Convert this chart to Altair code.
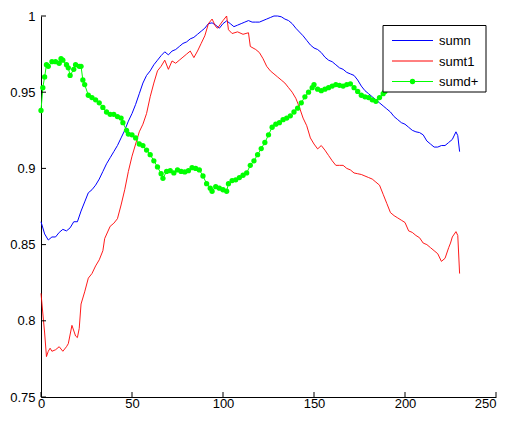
import altair as alt
import pandas as pd

# ---- data ----
sumn_x = [0, 2, 4, 6, 8, 10, 12, 14, 16, 18, 20, 22, 24, 26, 28, 30, 32, 34, 36, 38, 40,
          42, 44, 46, 48, 50, 52, 54, 56, 58, 60, 62, 64, 66, 68, 70, 72, 74, 76, 78, 80,
          82, 84, 86, 88, 90, 92, 94, 96, 98, 100, 102, 104, 106, 108, 110, 112, 114, 116,
          118, 120, 122, 124, 126, 128, 130, 132, 134, 136, 138, 140, 142, 144, 146, 148,
          150, 152, 154, 156, 158, 160, 162, 164, 166, 168, 170, 172, 174, 176, 178, 180,
          182, 184, 186, 188, 190, 192, 194, 196, 198, 200, 202, 204, 206, 208, 210, 212,
          214, 216, 218, 220, 222, 224, 226, 228, 229, 230]
sumn_y = [0.865, 0.857, 0.853, 0.855, 0.855, 0.858, 0.860, 0.859, 0.861, 0.865, 0.865,
          0.872, 0.878, 0.884, 0.886, 0.889, 0.893, 0.898, 0.903, 0.907, 0.911, 0.915,
          0.920, 0.925, 0.931, 0.936, 0.942, 0.949, 0.956, 0.961, 0.964, 0.968, 0.971,
          0.974, 0.9765, 0.9745, 0.977, 0.978, 0.980, 0.982, 0.983, 0.985, 0.986, 0.988,
          0.990, 0.992, 0.995, 0.9955, 0.994, 0.992, 0.995, 0.9968, 0.995, 0.993, 0.994,
          0.995, 0.996, 0.997, 0.996, 0.996, 0.996, 0.997, 0.998, 0.999, 1.000, 1.000,
          0.9995, 0.998, 0.997, 0.995, 0.992, 0.9895, 0.987, 0.984, 0.981, 0.979, 0.978,
          0.976, 0.973, 0.971, 0.970, 0.968, 0.966, 0.965, 0.963, 0.962, 0.961, 0.958,
          0.954, 0.951, 0.949, 0.947, 0.945, 0.943, 0.941, 0.939, 0.937, 0.934, 0.932,
          0.930, 0.929, 0.927, 0.925, 0.924, 0.9235, 0.922, 0.918, 0.916, 0.914, 0.914,
          0.915, 0.915, 0.917, 0.919, 0.924, 0.9215, 0.911]

sumt1_x = [0, 2, 3, 4, 5, 6, 8, 10, 12, 14, 15, 17, 19, 20, 21, 22, 24, 26, 28, 30, 32,
           34, 35, 38, 40, 42, 44, 46, 48, 50, 52, 54, 56, 58, 60, 62, 64, 66, 68, 70, 72,
           74, 76, 78, 80, 82, 84, 86, 88, 90, 92, 94, 96, 97, 100, 102, 103, 105, 108,
           111, 114, 115, 118, 120, 122, 124, 126, 128, 130, 132, 134, 136, 138, 140, 142,
           144, 146, 148, 150, 152, 154, 156, 158, 160, 162, 164, 166, 168, 170, 172, 174,
           176, 178, 180, 182, 184, 186, 188, 190, 192, 194, 196, 198, 200, 202, 204, 206,
           208, 210, 212, 214, 216, 218, 220, 222, 224, 225, 226, 228, 229, 230]
sumt1_y = [0.818, 0.792, 0.7765, 0.780, 0.782, 0.780, 0.781, 0.783, 0.780, 0.783, 0.785,
           0.797, 0.790, 0.789, 0.795, 0.811, 0.819, 0.828, 0.831, 0.836, 0.840, 0.846,
           0.854, 0.862, 0.864, 0.867, 0.876, 0.886, 0.898, 0.908, 0.916, 0.924, 0.929,
           0.936, 0.947, 0.956, 0.964, 0.967, 0.971, 0.965, 0.9705, 0.969, 0.971, 0.973,
           0.975, 0.977, 0.9727, 0.977, 0.982, 0.987, 0.995, 0.998, 0.993, 0.992, 0.997,
           1.000, 0.991, 0.9885, 0.9896, 0.988, 0.989, 0.980, 0.978, 0.976, 0.972, 0.967,
           0.964, 0.962, 0.960, 0.958, 0.956, 0.953, 0.950, 0.946, 0.940, 0.933, 0.928,
           0.920, 0.916, 0.9128, 0.915, 0.912, 0.9085, 0.905, 0.902, 0.902, 0.902, 0.900,
           0.899, 0.897, 0.8965, 0.896, 0.895, 0.894, 0.893, 0.891, 0.889, 0.883, 0.877,
           0.871, 0.869, 0.8675, 0.866, 0.8645, 0.859, 0.858, 0.856, 0.8545, 0.851, 0.850,
           0.848, 0.846, 0.844, 0.839, 0.841, 0.848, 0.851, 0.855, 0.8585, 0.856, 0.831]

sumd_x = [0, 1, 2, 3, 4, 6, 8, 10, 11, 12, 14, 15, 16, 18, 19, 21, 22, 23, 24, 26, 28,
          30, 32, 34, 36, 38, 40, 42, 44, 45, 47, 48, 50, 52, 54, 56, 58, 60, 62, 64, 66,
          67, 69, 71, 73, 75, 77, 79, 81, 83, 85, 87, 89, 91, 93, 94, 96, 98, 100, 102,
          103, 105, 107, 109, 111, 113, 115, 117, 119, 121, 123, 125, 127, 129, 131, 133,
          135, 137, 139, 141, 143, 145, 147, 149, 150, 152, 154, 156, 158, 160, 162, 164,
          166, 168, 170, 172, 174, 176, 178, 180, 182, 184, 186, 188, 189]
sumd_y = [0.938, 0.953, 0.960, 0.968, 0.967, 0.970, 0.970, 0.969, 0.972, 0.971, 0.968,
          0.966, 0.961, 0.965, 0.968, 0.967, 0.967, 0.958, 0.955, 0.948, 0.9465, 0.945,
          0.943, 0.940, 0.937, 0.9355, 0.9355, 0.934, 0.933, 0.930, 0.925, 0.9225, 0.922,
          0.920, 0.916, 0.915, 0.912, 0.909, 0.905, 0.901, 0.8965, 0.8935, 0.898, 0.8985,
          0.897, 0.899, 0.898, 0.8977, 0.8985, 0.9005, 0.900, 0.899, 0.895, 0.890, 0.887,
          0.885, 0.888, 0.887, 0.886, 0.885, 0.890, 0.892, 0.8925, 0.894, 0.8955, 0.897,
          0.902, 0.905, 0.909, 0.913, 0.917, 0.922, 0.927, 0.929, 0.930, 0.932, 0.933,
          0.9345, 0.937, 0.9395, 0.943, 0.947, 0.950, 0.953, 0.955, 0.952, 0.951, 0.952,
          0.953, 0.954, 0.955, 0.9545, 0.954, 0.955, 0.9555, 0.953, 0.9505, 0.948, 0.947,
          0.9465, 0.945, 0.944, 0.9465, 0.949, 0.9505]

x_ticks = [0, 50, 100, 150, 200, 250]
y_ticks = [0.75, 0.8, 0.85, 0.9, 0.95, 1.0]

legend_labels = ["sumn", "sumt1", "sumd+"]

BLUE = "#0000ff"
RED = "#ff0000"
GREEN = "#00ff00"
FONT = "Liberation Sans"

W, H = 455, 381

xs = alt.Scale(domain=[0, 250], nice=False, zero=False)
ys = alt.Scale(domain=[0.75, 1.0], nice=False, zero=False)

x_axis = alt.Axis(values=x_ticks, ticks=False, grid=False, title=None, domainColor="black",
                  domainWidth=1, labelFont=FONT, labelFontSize=13, labelColor="black",
                  labelPadding=0, labelFlush=False, labelOverlap=False,
                  labelAlign={"condition": {"test": "datum.value === 250", "value": "right"},
                              "value": "center"})
y_axis = alt.Axis(values=y_ticks, ticks=False, grid=False, title=None, domainColor="black",
                  domainWidth=1, labelFont=FONT, labelFontSize=13, labelColor="black",
                  labelPadding=6, format="~g", labelFlush=False, labelOverlap=False)

df_n = pd.DataFrame({"x": sumn_x, "y": sumn_y})
df_t = pd.DataFrame({"x": sumt1_x, "y": sumt1_y})
df_d = pd.DataFrame({"x": sumd_x, "y": sumd_y})

blue = alt.Chart(df_n).mark_line(color=BLUE, strokeWidth=1).encode(
    x=alt.X("x:Q", scale=xs, axis=x_axis), y=alt.Y("y:Q", scale=ys, axis=y_axis))
red = alt.Chart(df_t).mark_line(color=RED, strokeWidth=0.9).encode(
    x=alt.X("x:Q", scale=xs), y=alt.Y("y:Q", scale=ys))
green_line = alt.Chart(df_d).mark_line(color=GREEN, strokeWidth=1).encode(
    x=alt.X("x:Q", scale=xs), y=alt.Y("y:Q", scale=ys))
green_pts = alt.Chart(df_d).mark_circle(color=GREEN, size=28, opacity=1).encode(
    x=alt.X("x:Q", scale=xs), y=alt.Y("y:Q", scale=ys))

xt = alt.Chart(pd.DataFrame({"x": x_ticks})).mark_rule(color="black", strokeWidth=1).encode(
    x=alt.X("x:Q", scale=xs), y=alt.value(H), y2=alt.value(H - 5))
yt = alt.Chart(pd.DataFrame({"y": y_ticks})).mark_rule(color="black", strokeWidth=1).encode(
    y=alt.Y("y:Q", scale=ys), x=alt.value(0), x2=alt.value(5))

one = pd.DataFrame({"a": [0]})
lx0, ly0, lx1, ly1 = 342, 9.5, 445, 76
box = alt.Chart(one).mark_rect(fill="white", stroke="black", strokeWidth=1).encode(
    x=alt.value(lx0), x2=alt.value(lx1), y=alt.value(ly0), y2=alt.value(ly1))
rows = [24.5, 45, 65.5]
colors = [BLUE, RED, GREEN]
leg_layers = [box]
for lab, col, ry in zip(legend_labels, colors, rows):
    leg_layers.append(alt.Chart(one).mark_rule(color=col, strokeWidth=1).encode(
        x=alt.value(351), x2=alt.value(392), y=alt.value(ry)))
    leg_layers.append(alt.Chart(one).mark_text(align="left", baseline="middle", font=FONT,
                                               fontSize=13, color="black").encode(
        x=alt.value(398), y=alt.value(ry + 0.5), text=alt.value(lab)))
leg_layers.append(alt.Chart(one).mark_circle(color=GREEN, size=28, opacity=1).encode(
    x=alt.value(371.5), y=alt.value(rows[2])))

chart = alt.layer(blue, red, green_line, green_pts, xt, yt, *leg_layers).properties(
    width=W, height=H,
    padding={"left": 33, "top": 8, "right": 3, "bottom": 405 - 8 - H},
    autosize=alt.AutoSizeParams(type="none"),
    background="white",
).configure_view(stroke=None)

chart.save("out.html", embed_options={"renderer": "svg", "actions": False})
